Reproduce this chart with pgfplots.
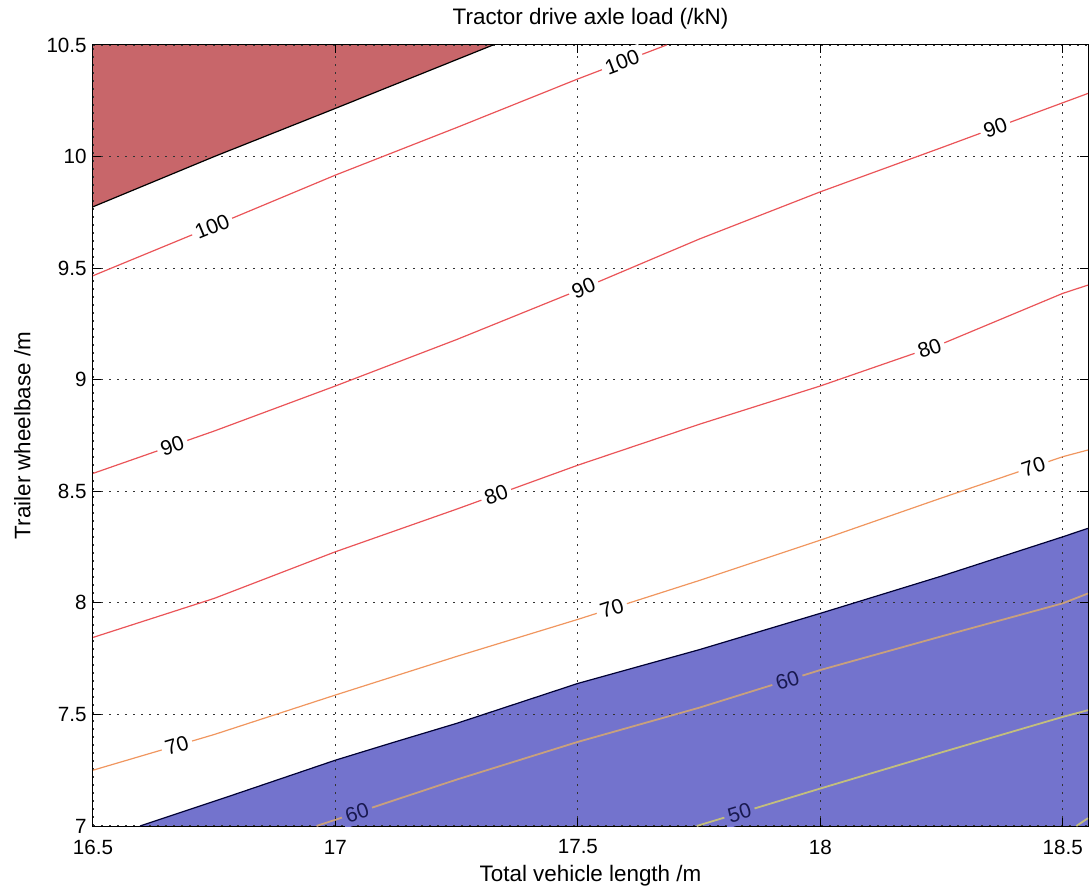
\documentclass[border=0pt]{standalone}
\usepackage{fontspec}
\setmainfont{Liberation Sans}
\usepackage{pgfplots}
\pgfplotsset{compat=1.18}
\definecolor{redfill}{RGB}{200,102,106}
\definecolor{bluefill}{RGB}{115,115,205}
\definecolor{cred}{RGB}{234,84,88}
\definecolor{corange}{RGB}{240,150,95}
\definecolor{ctan}{RGB}{200,160,125}
\definecolor{cyel}{RGB}{195,190,125}
\definecolor{navy}{RGB}{25,25,80}
\tikzset{
  clabel/.style={sloped, fill=white, inner sep=2pt, text=black, font=\fontsize{10.5}{12}\selectfont},
  blabel/.style={sloped, fill=bluefill, inner sep=2pt, text=navy, font=\fontsize{10.5}{12}\selectfont},
}
\begin{document}
\begin{tikzpicture}
\begin{axis}[
  set layers,
  scale only axis, width=497.5pt, height=390.5pt,
  xmin=16.5, xmax=18.552, ymin=7, ymax=10.5,
  xtick={16.5,17,17.5,18,18.5},
  ytick={7,7.5,8,8.5,9,9.5,10,10.5},
  /pgf/number format/assume math mode=true,
  axis line style={black, line width=0.5pt},
  tick align=inside, tick pos=both, major tick length=4pt,
  tick style={black, line width=0.5pt},
  grid=major,
  major grid style={black!80, line width=0.6pt, dash pattern=on 0.9pt off 3.1pt},
  xticklabel style={font=\fontsize{10.3}{12}\selectfont, anchor=center, inner sep=0pt, yshift=-10.5pt},
  yticklabel style={font=\fontsize{10.3}{12}\selectfont, anchor=east, inner sep=0pt, xshift=-3pt},
  title={Tractor drive axle load (/kN)},
  every axis title/.style={at={(axis description cs:0.5,1.0333)}, anchor=center, inner sep=0pt, font=\fontsize{11.2}{13}\selectfont},
  xlabel={Total vehicle length /m},
  xlabel style={at={(axis description cs:0.5,-0.0634)}, anchor=center, inner sep=0pt, font=\fontsize{11.2}{13}\selectfont},
  ylabel={Trailer wheelbase /m},
  ylabel style={at={(axis description cs:-0.0709,0.5)}, anchor=center, inner sep=0pt, font=\fontsize{11.2}{13}\selectfont},
]
% filled regions
\addplot[on layer=axis background, fill=redfill, draw=none]
  coordinates {(16.5,9.775) (16.75,10.0) (17,10.216) (17.325,10.5) (16.5,10.5)};
\addplot[on layer=axis background, fill=bluefill, draw=none]
  coordinates {(16.597,7.0) (16.79,7.14) (17,7.295) (17.12,7.375) (17.25,7.46) (17.5,7.639) (17.75,7.79) (18,7.953) (18.25,8.12) (18.5,8.296) (18.552,8.334) (18.552,7.0)};
% region boundaries
\addplot[black, line width=0.6pt]
  coordinates {(16.5,9.775) (16.75,10.0) (17,10.216) (17.325,10.5)};
\addplot[black!80!blue, line width=0.6pt]
  coordinates {(16.597,7.0) (16.79,7.14) (17,7.295) (17.12,7.375) (17.25,7.46) (17.5,7.639) (17.75,7.79) (18,7.953) (18.25,8.12) (18.5,8.296) (18.552,8.334)};
% contour 100
\addplot[cred, line width=0.6pt]
  coordinates {(16.5,9.466) (16.75,9.69) (17,9.917) (17.25,10.13) (17.5,10.348) (17.683,10.5)}
  node[clabel, pos=0.21] {100} node[clabel, pos=0.924] {100};
% contour 90
\addplot[cred, line width=0.6pt]
  coordinates {(16.5,8.58) (16.75,8.77) (17,8.972) (17.25,9.18) (17.5,9.40) (17.75,9.63) (18,9.842) (18.25,10.04) (18.552,10.283)}
  node[clabel, pos=0.077] {90} node[clabel, pos=0.491] {90} node[clabel, pos=0.908] {90};
% contour 80
\addplot[cred, line width=0.6pt]
  coordinates {(16.5,7.845) (16.75,8.02) (17,8.229) (17.25,8.42) (17.5,8.617) (17.75,8.80) (18,8.972) (18.25,9.16) (18.5,9.387) (18.552,9.424)}
  node[clabel, pos=0.405] {80} node[clabel, pos=0.833] {80};
% contour 70
\addplot[corange, line width=0.6pt]
  coordinates {(16.5,7.25) (16.75,7.41) (17,7.587) (17.25,7.76) (17.5,7.926) (17.75,8.10) (18,8.281) (18.25,8.47) (18.5,8.655) (18.552,8.685)}
  node[clabel, pos=0.082] {70} node[clabel, pos=0.516] {70} node[clabel, pos=0.946] {70};
% contour 60
\addplot[ctan, line width=0.9pt]
  coordinates {(16.961,7.0) (17.25,7.208) (17.5,7.377) (17.75,7.53) (18,7.699) (18.25,7.85) (18.5,7.998) (18.552,8.042)}
  node[blabel, pos=0.054] {60} node[blabel, pos=0.615] {60};
% contour 50
\addplot[cyel, line width=0.9pt]
  coordinates {(17.745,7.0) (18,7.168) (18.25,7.33) (18.5,7.489) (18.552,7.519)}
  node[blabel, pos=0.11] {50};
% contour 40 (corner)
\addplot[cyel, line width=0.9pt]
  coordinates {(18.528,7.0) (18.552,7.035)};
\end{axis}
\pgfresetboundingbox
\path[use as bounding box] ([xshift=-46.5pt,yshift=-31pt]current axis.south west) rectangle ([xshift=1.5pt,yshift=22.5pt]current axis.north east);
\end{tikzpicture}
\end{document}
